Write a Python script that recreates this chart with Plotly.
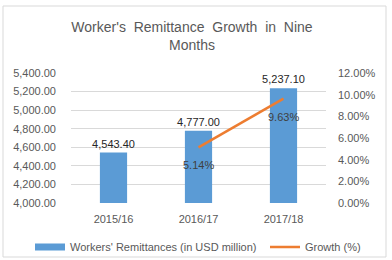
import plotly.graph_objects as go

# Chart data
years = ["2015/16", "2016/17", "2017/18"]
remittances = [4543.40, 4777.00, 5237.10]      # USD million
growth = [None, 5.14, 9.63]                    # percent

left_ticks = [4000, 4200, 4400, 4600, 4800, 5000, 5200, 5400]
right_ticks = [0, 2, 4, 6, 8, 10, 12]

BAR_NAME = "Workers' Remittances (in USD million)"
LINE_NAME = "Growth (%)"

BLUE = "#5B9BD5"
ORANGE = "#ED7D31"
GREY_TEXT = "#595959"
GRID = "#D9D9D9"
FONT = "Liberation Sans"

W, H = 392, 260
L, R, T, B = 71, 66, 73, 57
plot_w, plot_h = W - L - R, H - T - B


def px_x(px):
    return (px - L) / plot_w


def px_y(py):
    return (H - B - py) / plot_h


fig = go.Figure()

fig.add_trace(go.Bar(
    x=years, y=remittances,
    name=BAR_NAME,
    marker=dict(color=BLUE, line=dict(width=0)),
    text=[f"{v:,.2f}" for v in remittances],
    textposition="outside",
    constraintext="none",
    textfont=dict(family=FONT, size=11, color="#262626"),
    cliponaxis=False,
    showlegend=False,
    legendgroup="bars",
    yaxis="y",
))

# Legend key for the bars: a wide flat swatch
fig.add_trace(go.Scatter(
    x=[None], y=[None],
    name=BAR_NAME,
    mode="lines",
    line=dict(color=BLUE, width=7),
    legendgroup="bars",
    legend="legend",
    hoverinfo="skip",
))

fig.add_trace(go.Scatter(
    x=years, y=growth,
    name=LINE_NAME,
    mode="lines",
    line=dict(color=ORANGE, width=2.5),
    legend="legend2",
    yaxis="y2",
))

# Growth labels sit just below each point of the line
for yr, g in zip(years, growth):
    if g is None:
        continue
    fig.add_annotation(
        x=yr, y=g, yref="y2", text=f"{g:.2f}%",
        showarrow=False, yshift=-18,
        font=dict(family=FONT, size=11, color="#404040"),
    )

# Chart border
fig.add_shape(
    type="rect", xref="paper", yref="paper",
    x0=px_x(3), x1=px_x(386), y0=px_y(257), y1=px_y(6),
    line=dict(color=GRID, width=1), fillcolor="rgba(0,0,0,0)",
    layer="below",
)

legend_common = dict(
    orientation="h",
    xref="container", yref="container",
    xanchor="left", yanchor="middle",
    y=1 - 247 / H,
    font=dict(family=FONT, size=11, color=GREY_TEXT),
    itemwidth=30,
    bgcolor="rgba(0,0,0,0)",
)

fig.update_layout(
    width=W, height=H,
    margin=dict(l=L, r=R, t=T, b=B, pad=0, autoexpand=False),
    paper_bgcolor="white", plot_bgcolor="white",
    font=dict(family=FONT, size=11, color=GREY_TEXT),
    title=dict(
        text="Worker's  Remittance  Growth  in  Nine<br>Months",
        x=192 / W, xanchor="center",
        y=1 - 32 / H, yanchor="top",
        font=dict(family=FONT, size=14, color=GREY_TEXT),
    ),
    bargap=0.68,
    showlegend=True,
    legend=dict(legend_common, x=30 / W),
    legend2=dict(legend_common, x=265 / W),
    xaxis=dict(
        showgrid=False, showline=False, zeroline=False,
        ticks="", ticklabelstandoff=8,
        tickfont=dict(family=FONT, size=11, color=GREY_TEXT),
    ),
    yaxis=dict(
        range=[4000, 5400], tickvals=left_ticks,
        tickformat=",.2f",
        showgrid=True, gridcolor=GRID, gridwidth=1,
        zeroline=False, showline=False, ticks="",
        ticklabelstandoff=14,
        tickfont=dict(family=FONT, size=11, color=GREY_TEXT),
    ),
    yaxis2=dict(
        range=[0, 12], tickmode="array", tickvals=right_ticks,
        ticktext=[f"{v:.2f}%" for v in right_ticks],
        overlaying="y", side="right",
        showgrid=False, zeroline=False, showline=False, ticks="",
        ticklabelstandoff=11,
        tickfont=dict(family=FONT, size=11, color=GREY_TEXT),
    ),
)

fig.write_html("out.html")
